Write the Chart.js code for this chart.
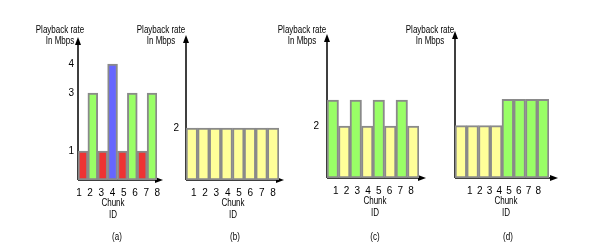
<!DOCTYPE html>
<html>
<head>
<meta charset="utf-8">
<script src="https://cdn.jsdelivr.net/npm/chart.js@4"></script>
<style>
body { margin: 0; background: #fff; }
#wrap { position: relative; width: 598px; height: 246px; }
#wrap canvas { position: absolute; left: 0; top: 0; }
</style>
</head>
<body>
<div id="wrap">
  <canvas id="chartA" width="598" height="246"></canvas>
  <canvas id="chartB" width="598" height="246"></canvas>
  <canvas id="chartC" width="598" height="246"></canvas>
  <canvas id="chartD" width="598" height="246"></canvas>
</div>
<script>
// Données
const chunkIds = ['1', '2', '3', '4', '5', '6', '7', '8'];
const ratesA = [1, 3, 1, 4, 1, 3, 1, 3];
const ratesB = [2, 2, 2, 2, 2, 2, 2, 2];
const ratesC = [3, 2, 3, 2, 3, 2, 3, 2];
const ratesD = [2, 2, 2, 2, 3, 3, 3, 3];
const yTicksA = [1, 3, 4];
const yTicksB = [2];
const yTicksC = [2];
const yTicksD = [];
const captions = ['(a)', '(b)', '(c)', '(d)'];

// Couleur d'une barre selon le débit
const rateColors = { 1: '#ee3333', 2: '#ffff99', 3: '#99ff66', 4: '#6666ff' };
const FONT = "'Liberation Sans', Arial, sans-serif";
const Y_AXIS_W = 20;
const X_AXIS_H = 20;

// Mise en page de chaque panneau (pixels)
const panels = [
    { id: 'chartA', rates: ratesA, yTicks: yTicksA, caption: captions[0],
      left: 78, right: 157, top: 37, bottom: 180, unit: 29, lab1: 73.4, lab8: 163.1,
      arrowEnd: 163, tickPad: 4, titleX: 60, chunkX: 113, chunkY: 203, capX: 117 },
    { id: 'chartB', rates: ratesB, yTicks: yTicksB, caption: captions[1],
      left: 186, right: 279, top: 35, bottom: 180, unit: 26, lab1: 188.2, lab8: 278.8,
      arrowEnd: 284, tickPad: 7, titleX: 161, chunkX: 233, chunkY: 203, capX: 235 },
    { id: 'chartC', rates: ratesC, yTicks: yTicksC, caption: captions[2],
      left: 327, right: 419, top: 34, bottom: 178, unit: 26, lab1: 330.6, lab8: 416.4,
      arrowEnd: 426, tickPad: 8, titleX: 302, chunkX: 375, chunkY: 201, capX: 375 },
    { id: 'chartD', rates: ratesD, yTicks: yTicksD, caption: captions[3],
      left: 455, right: 549, top: 31, bottom: 178, unit: 26.2, lab1: 465.3, lab8: 543.5,
      arrowEnd: 558, tickPad: 8, titleX: 430, chunkX: 506, chunkY: 201, capX: 508 }
];

function arrowHead(ctx, x, y, dir) {
    ctx.beginPath();
    if (dir === 'up') {
        ctx.moveTo(x, y);
        ctx.lineTo(x - 3, y + 8);
        ctx.lineTo(x + 3, y + 8);
    } else {
        ctx.moveTo(x, y);
        ctx.lineTo(x - 8, y - 3);
        ctx.lineTo(x - 8, y + 3);
    }
    ctx.closePath();
    ctx.fill();
}

// texte un peu condensé, comme dans la figure
function narrowText(ctx, text, x, y) {
    ctx.save();
    ctx.translate(x, y);
    ctx.scale(0.8, 1);
    ctx.fillText(text, 0, 0);
    ctx.restore();
}

// Axes fléchés + textes libres
const sketchPlugin = {
    id: 'sketch',
    beforeDatasetsDraw(chart) {
        const p = chart.options.plugins.sketch;
        const a = chart.chartArea;
        const ctx = chart.ctx;
        ctx.save();
        ctx.strokeStyle = '#000';
        ctx.fillStyle = '#000';
        ctx.lineWidth = 1.5;
        ctx.beginPath();
        ctx.moveTo(a.left, a.bottom);
        ctx.lineTo(a.left, a.top + 4);
        ctx.moveTo(a.left, a.bottom);
        ctx.lineTo(p.arrowEnd - 4, a.bottom);
        ctx.stroke();
        arrowHead(ctx, a.left, a.top, 'up');
        arrowHead(ctx, p.arrowEnd, a.bottom, 'right');
        ctx.restore();
    },
    afterDraw(chart) {
        const p = chart.options.plugins.sketch;
        const ctx = chart.ctx;
        ctx.save();
        ctx.fillStyle = '#000';
        ctx.textAlign = 'center';
        ctx.textBaseline = 'middle';
        ctx.font = '10px ' + FONT;
        narrowText(ctx, 'Playback rate', p.titleX, 30);
        narrowText(ctx, 'In Mbps', p.titleX, 41);
        narrowText(ctx, 'Chunk', p.chunkX, p.chunkY);
        narrowText(ctx, 'ID', p.chunkX, p.chunkY + 12);
        narrowText(ctx, p.caption, p.capX, 237);
        ctx.restore();
    }
};

function renderPanel(p) {
    const k = (p.lab8 - p.lab1) / 7;
    const labMin = 1 - (p.lab1 - p.left) / k;
    const labMax = labMin + (p.right - p.left) / k;
    const ctx = document.getElementById(p.id).getContext('2d');
    new Chart(ctx, {
        type: 'bar',
        data: {
            labels: chunkIds,
            datasets: [{
                data: p.rates,
                backgroundColor: p.rates.map(r => rateColors[r]),
                borderColor: '#8a8a8a',
                borderWidth: 2,
                borderSkipped: false,
                barPercentage: 1,
                categoryPercentage: 1
            }]
        },
        options: {
            responsive: false,
            animation: false,
            layout: {
                padding: { left: p.left - Y_AXIS_W, right: 598 - p.right, top: p.top, bottom: 246 - p.bottom - X_AXIS_H }
            },
            plugins: {
                legend: { display: false },
                tooltip: { enabled: false },
                sketch: p
            },
            scales: {
                x: { display: false },
                x2: {
                    type: 'linear',
                    position: 'bottom',
                    bounds: 'data',
                    min: labMin,
                    max: labMax,
                    grid: { display: false, drawTicks: false },
                    border: { display: false },
                    ticks: { autoSkip: false, maxRotation: 0, padding: 7, color: '#000', font: { size: 10, family: FONT } },
                    afterBuildTicks: s => { s.ticks = chunkIds.map(v => ({ value: Number(v) })); },
                    afterFit: s => { s.height = X_AXIS_H; }
                },
                y: {
                    min: 0,
                    max: (p.bottom - p.top) / p.unit,
                    grid: { display: false, drawTicks: false },
                    border: { display: false },
                    ticks: { display: p.yTicks.length > 0, autoSkip: false, padding: p.tickPad, color: '#000', font: { size: 10, family: FONT } },
                    afterBuildTicks: s => { s.ticks = p.yTicks.map(v => ({ value: v })); },
                    afterFit: s => { s.width = Y_AXIS_W; }
                }
            }
        },
        plugins: [sketchPlugin]
    });
}

document.addEventListener('DOMContentLoaded', function() {
    panels.forEach(renderPanel);
});
</script>
</body>
</html>
